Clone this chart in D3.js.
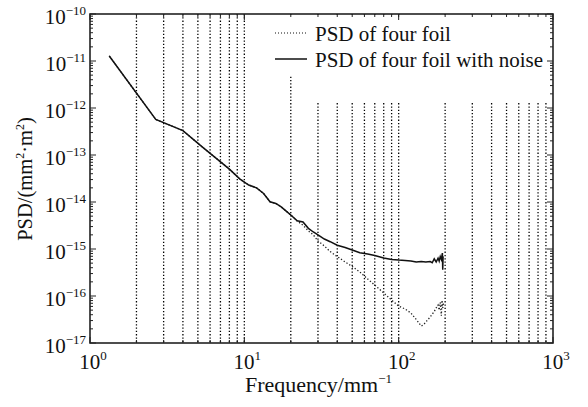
<!DOCTYPE html>
<html lang="en">
<head>
<meta charset="UTF-8">
<title>PSD of four foil</title>
<script src="https://d3js.org/d3.v7.min.js"></script>
<style>
  body { margin: 0; background: #fff; }
  svg text { font-family: "Liberation Serif", "Times New Roman", serif; fill: #111; }
</style>
</head>
<body>
<div id="chart"></div>
<script>
// values (frequency in mm^-1, PSD in mm^2·m^2)
const freqNoise = [1.333, 2.667, 4.0, 5.333, 6.667, 8.0, 9.333, 10.67, 12, 13.33, 14.67, 16, 17.33, 18.67, 20,
  22, 24, 26, 28, 30, 33, 36, 40, 45, 50, 56, 63, 70, 80, 90, 100, 110, 120, 130, 140, 150, 160,
  165, 170, 175, 180, 183, 186, 189, 192, 193, 194, 195];
const psdNoise = [1.28e-11, 5.7e-13, 3.3e-13, 1.49e-13, 8.2e-14, 5.0e-14, 3.1e-14, 2.3e-14, 2.0e-14, 1.52e-14, 1.01e-14, 9.3e-15, 7.9e-15, 6.4e-15, 5.3e-15,
  4.0e-15, 3.75e-15, 2.75e-15, 2.3e-15, 2.0e-15, 1.63e-15, 1.43e-15, 1.2e-15, 1.08e-15, 9.5e-16, 8.3e-16, 7.8e-16, 7.3e-16, 6.45e-16, 6.0e-16, 5.8e-16, 5.7e-16, 5.55e-16, 5.3e-16, 5.4e-16, 5.3e-16, 5.4e-16,
  5.1e-16, 6.2e-16, 5.3e-16, 6.4e-16, 5.5e-16, 6.9e-16, 6.0e-16, 8.2e-16, 3.6e-16, 6.9e-16, 7.0e-16];

const freqClean = [1.333, 2.667, 4.0, 5.333, 6.667, 8.0, 9.333, 10.67, 12, 13.33, 14.67, 16, 17.33, 18.67, 20,
  22, 24, 26, 28, 30, 33, 36, 40, 45, 50, 56, 63, 70, 80, 90, 100, 110, 120, 130, 140, 145, 150, 160,
  170, 175, 180, 183, 186, 189, 191, 193, 195];
const psdClean = [1.28e-11, 5.7e-13, 3.3e-13, 1.49e-13, 8.2e-14, 5.0e-14, 3.1e-14, 2.3e-14, 2.0e-14, 1.52e-14, 1.01e-14, 9.3e-15, 7.9e-15, 6.4e-15, 5.3e-15,
  3.94e-15, 3.2e-15, 2.42e-15, 1.99e-15, 1.48e-15, 1.16e-15, 8.8e-16, 6.9e-16, 5.3e-16, 4.24e-16, 3.25e-16, 2.3e-16, 1.71e-16, 1.16e-16, 8.2e-17, 6.1e-17, 5.3e-17, 4.35e-17, 3.16e-17, 2.3e-17, 2.45e-17, 2.8e-17, 3.57e-17,
  4.68e-17, 5.6e-17, 6.4e-17, 5.0e-17, 7.3e-17, 3.8e-17, 8.1e-17, 5.6e-17, 7.0e-17];

const xTickExps = [0, 1, 2, 3];
const yTickExps = [-17, -16, -15, -14, -13, -12, -11, -10];
const legendLabels = ["PSD of four foil", "PSD of four foil with noise"];

const W = 588, H = 407;
const margin = { top: 14, right: 35, bottom: 64, left: 90 };
const iw = W - margin.left - margin.right;
const ih = H - margin.top - margin.bottom;

const svg = d3.select("#chart").append("svg")
  .attr("width", W).attr("height", H);

const g = svg.append("g").attr("transform", `translate(${margin.left},${margin.top})`);

const x = d3.scaleLog().domain([1, 1000]).range([0, iw]);
const y = d3.scaleLog().domain([1e-17, 1e-10]).range([ih, 0]);

// minor positions (2..9 in each decade)
const xMinor = [];
[1, 10, 100].forEach(d => { for (let k = 2; k <= 10; k++) xMinor.push(k * d); });
const xGrid = xMinor.filter(v => v < 1000);
const yMinor = [];
yTickExps.slice(0, -1).forEach(e => { for (let k = 2; k <= 9; k++) yMinor.push(k * Math.pow(10, e)); });

// dotted vertical grid
g.append("g").selectAll("line").data(xGrid).join("line")
  .attr("x1", d => x(d)).attr("x2", d => x(d))
  .attr("y1", 0).attr("y2", ih)
  .attr("stroke", "#000").attr("stroke-width", 1.3)
  .attr("stroke-dasharray", "1.3,2");

// legend background hides the grid in the top right
g.append("rect").attr("x", x(20) + 2).attr("y", 1).attr("width", iw - x(20) - 3).attr("height", 86).attr("fill", "#fff");
g.append("rect").attr("x", x(20) - 18).attr("y", 1).attr("width", 20).attr("height", 60).attr("fill", "#fff");

// curves
const line = d3.line().x(d => x(d[0])).y(d => y(d[1]));
g.append("path")
  .datum(freqClean.map((f, i) => [f, psdClean[i]]))
  .attr("fill", "none").attr("stroke", "#222").attr("stroke-width", 1.3)
  .attr("stroke-dasharray", "1.3,2")
  .attr("d", line);
g.append("path")
  .datum(freqNoise.map((f, i) => [f, psdNoise[i]]))
  .attr("fill", "none").attr("stroke", "#111").attr("stroke-width", 1.5)
  .attr("d", line);

// ticks on all four sides, pointing inward
const ticks = g.append("g").attr("stroke", "#222").attr("stroke-width", 1);
const xMajor = xTickExps.map(e => Math.pow(10, e));
const yMajor = yTickExps.map(e => Math.pow(10, e));
xMinor.filter(v => v < 1000).forEach(v => {
  ticks.append("line").attr("x1", x(v)).attr("x2", x(v)).attr("y1", ih).attr("y2", ih - 3);
  ticks.append("line").attr("x1", x(v)).attr("x2", x(v)).attr("y1", 0).attr("y2", 3);
});
xMajor.forEach(v => {
  ticks.append("line").attr("x1", x(v)).attr("x2", x(v)).attr("y1", ih).attr("y2", ih - 6);
  ticks.append("line").attr("x1", x(v)).attr("x2", x(v)).attr("y1", 0).attr("y2", 6);
});
yMinor.forEach(v => {
  ticks.append("line").attr("x1", 0).attr("x2", 3).attr("y1", y(v)).attr("y2", y(v));
  ticks.append("line").attr("x1", iw).attr("x2", iw - 3).attr("y1", y(v)).attr("y2", y(v));
});
yMajor.forEach(v => {
  ticks.append("line").attr("x1", 0).attr("x2", 6).attr("y1", y(v)).attr("y2", y(v));
  ticks.append("line").attr("x1", iw).attr("x2", iw - 6).attr("y1", y(v)).attr("y2", y(v));
});

// frame
g.append("rect").attr("width", iw).attr("height", ih)
  .attr("fill", "none").attr("stroke", "#222").attr("stroke-width", 1.6);

// tick labels
const powLabel = (sel, e) => {
  sel.append("tspan").text("10");
  sel.append("tspan").attr("dy", -9).attr("font-size", 13).text(String(e).replace("-", "\u2212"));
};
xTickExps.forEach(e => {
  const t = g.append("text").attr("x", x(Math.pow(10, e)) + 3).attr("y", ih + 26)
    .attr("text-anchor", "middle").attr("font-size", 21);
  powLabel(t, e);
});
yTickExps.forEach(e => {
  const t = g.append("text").attr("x", -4).attr("y", y(Math.pow(10, e)) + 10)
    .attr("text-anchor", "end").attr("font-size", 21);
  powLabel(t, e);
});

// axis titles
svg.append("text").attr("x", 245).attr("y", 392)
  .attr("font-size", 22)
  .call(t => {
    t.append("tspan").text("Frequency/mm");
    t.append("tspan").attr("dy", -9).attr("font-size", 13).text("\u22121");
  });
svg.append("text").attr("transform", `translate(32,179) rotate(-90)`)
  .attr("text-anchor", "middle").attr("font-size", 20.5)
  .call(t => {
    t.append("tspan").text("PSD/(mm");
    t.append("tspan").attr("dy", -8).attr("font-size", 12).text("2");
    t.append("tspan").attr("dy", 8).text("\u00b7m");
    t.append("tspan").attr("dy", -8).attr("font-size", 12).text("2");
    t.append("tspan").attr("dy", 8).text(")");
  });

// legend
const legend = svg.append("g").attr("transform", "translate(275,0)");
legendLabels.forEach((label, i) => {
  const ly = 33 + i * 26;
  legend.append("line").attr("x1", 0).attr("x2", 32).attr("y1", ly).attr("y2", ly)
    .attr("stroke", "#111").attr("stroke-width", i === 0 ? 1 : 1.5)
    .attr("stroke-dasharray", i === 0 ? "1,2" : null);
  legend.append("text").attr("x", 40).attr("y", ly + 8).attr("font-size", 21).text(label);
});
</script>
</body>
</html>
